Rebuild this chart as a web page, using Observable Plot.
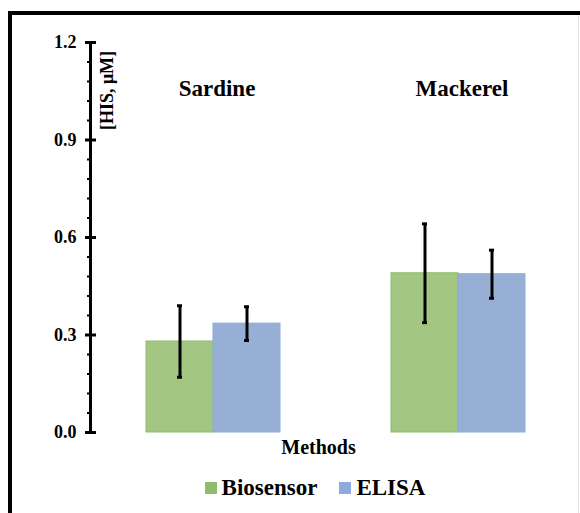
<!DOCTYPE html>
<html>
<head>
<meta charset="utf-8">
<script src="https://cdn.jsdelivr.net/npm/d3@7"></script>
<script src="https://cdn.jsdelivr.net/npm/@observablehq/plot@0.6"></script>
<style>
  html, body { margin: 0; padding: 0; background: #fff; }
  #wrap { position: relative; width: 580px; height: 513px; overflow: hidden; background: #fff;
          font-family: "Liberation Serif", "Times New Roman", serif; font-weight: bold; color: #000; }
  #frame { position: absolute; left: 8px; top: 11px; width: 600px; height: 600px;
           border-top: 4px solid #000; border-left: 4px solid #000; }
  #rline { position: absolute; left: 578px; top: 15px; width: 1px; height: 500px; background: #e2e2e2; }
  #chart { position: absolute; left: 0; top: 0; }
  #chart svg g[aria-label="y-axis tick label"] { font-size: 18px !important; }
  #xlabel { position: absolute; left: 0; width: 637px; top: 436px; text-align: center; font-size: 20px; }
  #legend { position: absolute; left: 0; width: 630px; top: 475px; display: flex; justify-content: center;
            align-items: center; font-size: 23px; gap: 22px; }
  .item { display: flex; align-items: center; gap: 5px; }
  .sw { width: 12px; height: 12px; display: inline-block; }
</style>
</head>
<body>
<div id="wrap">
  <div id="frame"></div>
  <div id="rline"></div>
  <div id="chart"></div>
  <div id="xlabel">Methods</div>
  <div id="legend"></div>
</div>
<script>
// ---- data ----
const categories = ["Sardine", "Mackerel"];
const methods = ["Biosensor", "ELISA"];
const biosensor = [0.28, 0.49];
const biosensorErr = [0.11, 0.152];
const elisa = [0.335, 0.487];
const elisaErr = [0.052, 0.074];
const majorTicks = [0.0, 0.3, 0.6, 0.9, 1.2];
const minorTicks = [0.06, 0.12, 0.18, 0.24, 0.36, 0.42, 0.48, 0.54, 0.66, 0.72, 0.78, 0.84, 0.96, 1.02, 1.08, 1.14];
const yLabel = "[HIS, μM]";

const colors = {Biosensor: "#a3c683", ELISA: "#98afd5"};
const strokes = {Biosensor: "#90bd69", ELISA: "#8eaadb"};
const legendColors = {Biosensor: "#8fbd6c", ELISA: "#8eaadc"};

const rows = [];
categories.forEach((c, i) => {
  rows.push({category: c, method: "Biosensor", value: biosensor[i], err: biosensorErr[i]});
  rows.push({category: c, method: "ELISA", value: elisa[i], err: elisaErr[i]});
});

const barMarks = methods.map(m => Plot.barY(rows.filter(d => d.method === m), {
  fx: "category", x: "method", y: "value",
  fill: colors[m], stroke: strokes[m], strokeWidth: 1
}));

const chart = Plot.plot({
  width: 580,
  height: 440,
  marginTop: 42,
  marginBottom: 8,
  marginLeft: 89,
  marginRight: 0,
  style: {fontFamily: "'Liberation Serif', 'Times New Roman', serif", fontWeight: "bold", color: "#000", background: "transparent", overflow: "visible"},
  fx: {domain: categories, paddingInner: 0, paddingOuter: 0, axis: null, label: null},
  x: {domain: methods, paddingInner: 0, paddingOuter: 0.805, axis: null, label: null},
  y: {domain: [0, 1.2], axis: null, label: null},
  marks: [
    ...barMarks,
    Plot.ruleX(rows, {fx: "category", x: "method", y1: d => d.value - d.err, y2: d => d.value + d.err, stroke: "#000", strokeWidth: 3}),
    Plot.tickY(rows, {fx: "category", x: "method", y: d => d.value + d.err, stroke: "#000", strokeWidth: 3, insetLeft: 31, insetRight: 31}),
    Plot.tickY(rows, {fx: "category", x: "method", y: d => d.value - d.err, stroke: "#000", strokeWidth: 3, insetLeft: 31, insetRight: 31}),
    Plot.frame({anchor: "left", facetAnchor: "left", stroke: "#000", strokeWidth: 3}),
    Plot.axisY(minorTicks, {anchor: "left", tickSize: 3, strokeWidth: 2, tickFormat: () => "", label: null}),
    Plot.axisY(majorTicks, {anchor: "left", tickSize: 5, tickPadding: 9, strokeWidth: 3, fontSize: 18, tickFormat: d3.format(".1f"), label: null}),
    Plot.axisY(majorTicks, {anchor: "left", tickSize: -6, strokeWidth: 3, tickFormat: () => "", label: null}),
    Plot.text(categories, {fx: d => d, text: d => d, frameAnchor: "top", lineAnchor: "middle", dy: 46, dx: 4, fontSize: 23, fontWeight: "bold", fill: "#000"}),
    Plot.text([yLabel], {facetAnchor: "left", frameAnchor: "top-left", text: d => d, rotate: -90, textAnchor: "middle", lineAnchor: "middle", dx: 17, dy: 48, fontSize: 18, fontWeight: "bold", fill: "#000"})
  ]
});
document.getElementById("chart").appendChild(chart);

const legend = document.getElementById("legend");
methods.forEach(m => {
  const item = document.createElement("div");
  item.className = "item";
  const sw = document.createElement("span");
  sw.className = "sw";
  sw.style.background = legendColors[m];
  const t = document.createElement("span");
  t.textContent = m;
  item.appendChild(sw);
  item.appendChild(t);
  legend.appendChild(item);
});
</script>
</body>
</html>
